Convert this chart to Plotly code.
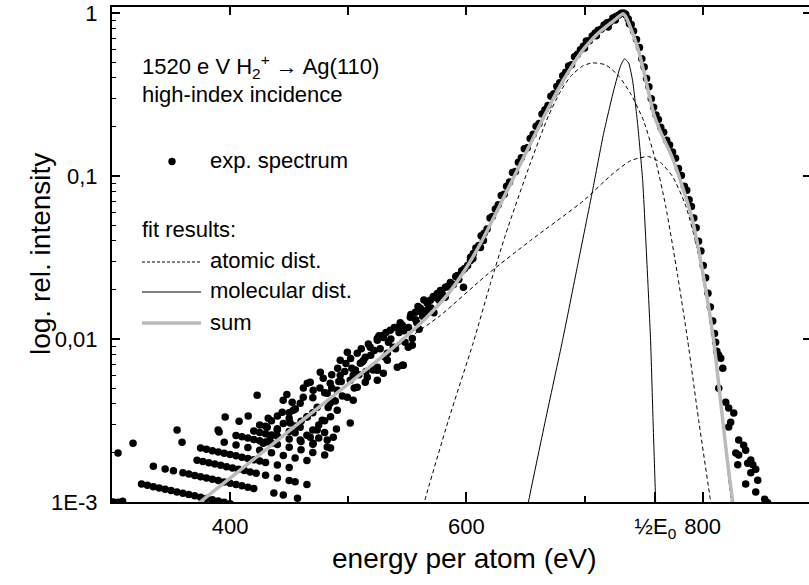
import plotly.graph_objects as go

# ---------------- fit curves ----------------
sum_energy = [370, 374.6, 400, 430, 460, 490, 520, 537.3, 555, 570, 585, 597.5, 606, 614.4, 625, 635, 645, 655, 665,
              675, 682.2, 690, 696.6, 704, 711, 718, 724.6, 729, 732.5, 735.5, 739, 742.5, 745.8, 749.5, 753.4, 758.5,
              765, 772.9, 778, 783.1, 787.5, 791.5, 796, 800.8, 805, 809.3, 813, 817, 821, 825.4, 829]
sum_intensity = [0.00094, 0.001, 0.001403, 0.002089, 0.003119, 0.004645, 0.006934, 0.00877, 0.01135, 0.01445, 0.01914,
                 0.0257, 0.03236, 0.04169, 0.05916, 0.08279, 0.1161, 0.1622, 0.2265, 0.3126, 0.389, 0.4808, 0.5689,
                 0.6607, 0.7447, 0.8222, 0.8954, 0.9506, 0.9886, 0.9333, 0.811, 0.6918, 0.5861, 0.4571, 0.3475, 0.241,
                 0.182, 0.1371, 0.1096, 0.0849, 0.0676, 0.0533, 0.0372, 0.02388, 0.01585, 0.00982, 0.00575, 0.00316,
                 0.00178, 0.001, 0.00063]

mol_energy = [651.5, 652.5, 666.9, 681.4, 694.1, 706.8, 716.1, 724.6, 730.5, 733.9, 737.3, 740.7, 744.9, 749.2, 753.4,
              755.9, 758, 760.2, 760.6]
mol_intensity = [0.0009, 0.001, 0.003177, 0.00982, 0.02825, 0.08147, 0.182, 0.3334, 0.4742, 0.5236, 0.4943, 0.3837,
                 0.2094, 0.0938, 0.02388, 0.00982, 0.00316, 0.001, 0.0008]

atomic1_energy = [562, 564.4, 584.7, 605.9, 620.3, 633.1, 654.2, 669.5, 679.7, 688.1, 698.3, 706.8, 717.8, 728.8, 739,
                  750, 760.2, 768.6, 778.8, 787.3, 796.6, 806.8, 808.5]
atomic1_intensity = [0.00085, 0.001, 0.003162, 0.00955, 0.02188, 0.04365, 0.1202, 0.2344, 0.3311, 0.4074, 0.4732,
                     0.4943, 0.4808, 0.4121, 0.3199, 0.2183, 0.1242, 0.0659, 0.02455, 0.00982, 0.003177, 0.001, 0.00083]

atomic2_energy = [370, 374.6, 400, 430, 460, 490, 520, 544, 578, 618.6, 654.2, 699.2, 722, 739, 754.2, 764.4, 774.6,
                  785.6, 795.8, 803.4, 809.3, 817, 824.6, 827]
atomic2_intensity = [0.00094, 0.001, 0.00138, 0.002065, 0.00309, 0.004603, 0.006855, 0.0093, 0.01396, 0.02523, 0.04018,
                     0.07063, 0.1005, 0.1242, 0.1315, 0.1208, 0.0991, 0.0659, 0.0349, 0.01726, 0.00914, 0.00302,
                     0.000955, 0.00075]

# ---------------- experimental spectrum (energy, intensity) ----------------
exp_low_rows = [
    (301, 0.00100), (305, 0.000995), (309, 0.00101),
    (325, 0.001289), (330, 0.001265), (335, 0.001242), (340, 0.001219), (345, 0.001197), (350, 0.001175),
    (355, 0.001153), (360, 0.001133), (365, 0.001112), (370, 0.001092), (375, 0.001071), (380, 0.001052),
    (385, 0.001033), (390, 0.001015), (395, 0.000996), (400, 0.000977),
    (335, 0.001656), (345, 0.001596), (352, 0.001555), (360, 0.00151), (365, 0.001483), (370, 0.001456),
    (375, 0.001428), (380, 0.001402), (385, 0.001378), (390, 0.001353), (395, 0.001328), (400, 0.001303),
    (405, 0.001279), (410, 0.001256), (415, 0.001233), (420, 0.001211), (437, 0.001137), (445, 0.001104),
    (457, 0.001056),
    (372, 0.001805), (377, 0.001773), (382, 0.00174), (387, 0.00171), (392, 0.001679), (397, 0.001648),
    (402, 0.001617), (407, 0.001588), (412, 0.001559), (417, 0.00153), (422, 0.001503), (430, 0.001459),
    (440, 0.001406), (450, 0.001355), (455, 0.00133), (465, 0.001282),
    (375, 0.002143), (380, 0.002104), (385, 0.002066), (390, 0.002029), (395, 0.001992), (400, 0.001955),
    (405, 0.001919), (410, 0.001884), (415, 0.00185), (420, 0.001816), (425, 0.001783), (430, 0.00175),
    (440, 0.001687), (450, 0.001626),
    (395, 0.002324), (405, 0.002239), (415, 0.002158), (425, 0.00208), (435, 0.002005), (445, 0.001932),
    (455, 0.001862), (465, 0.001795),
    (405, 0.002558), (410, 0.002512), (415, 0.002466), (420, 0.002422), (425, 0.002377), (430, 0.002334),
    (435, 0.002291), (440, 0.00225), (450, 0.002168), (460, 0.00209), (470, 0.002014), (480, 0.001941),
    (420, 0.002724), (425, 0.002674), (430, 0.002625), (435, 0.002578), (440, 0.002531), (450, 0.002439),
    (460, 0.002351), (470, 0.002265), (485, 0.002144),
    (425, 0.002971), (430, 0.002917), (440, 0.002812), (450, 0.00271), (455, 0.00266), (465, 0.002564),
    (475, 0.002471),
    (435, 0.00315), (445, 0.003036), (455, 0.002926), (470, 0.002769), (480, 0.002669),
    (440, 0.003374), (450, 0.003252), (460, 0.003134), (475, 0.002965), (490, 0.002807),
    (450, 0.003523), (465, 0.003333), (480, 0.003154),
    (455, 0.003724), (470, 0.003524), (485, 0.003335),
]

exp_cloud = [
    (422.9, 0.004519), (444.9, 0.004217), (452.5, 0.004093), (459.3, 0.004036), (444.1, 0.003556), (432.2, 0.003266),
    (431.4, 0.002877), (467.8, 0.005433), (476.3, 0.006252), (478.8, 0.005741), (484.7, 0.005358), (493.2, 0.005998),
    (499.2, 0.008299), (507.6, 0.008166), (514.4, 0.007727), (524.6, 0.009817), (529.7, 0.01023), (541.5, 0.0118),
    (501.7, 0.003048), (478.0, 0.003177), (484.7, 0.004036), (490.7, 0.003656), (499.2, 0.004395), (507.6, 0.005058),
    (516.1, 0.005834), (524.6, 0.006714), (529.7, 0.006166), (541.5, 0.006714), (546.6, 0.006902), (533.1, 0.008166),
    (538.1, 0.008892), (518.6, 0.008892), (510.2, 0.007096), (470.3, 0.004853), (461.9, 0.004395), (453.4, 0.003656),
    (465.3, 0.003319), (473.7, 0.002761), (482.2, 0.002399), (487.3, 0.0025), (467.8, 0.0025), (459.3, 0.002877),
    (450.8, 0.003048), (439.8, 0.002761), (433.9, 0.0025), (428.0, 0.002296), (473.7, 0.003819), (482.2, 0.004645),
    (490.7, 0.004853), (501.7, 0.005585), (493.2, 0.007413), (395.8, 0.003319), (389.8, 0.002761), (355.1, 0.002761),
    (359.3, 0.002328), (317.8, 0.002296), (305.1, 0.001995), (415.3, 0.003365), (407.6, 0.003133), (390.7, 0.002685),
    (524.6, 0.01009), (529.7, 0.01054), (535.6, 0.0113), (545.8, 0.01213), (552.5, 0.01358), (556.8, 0.01459),
    (561.0, 0.01542), (566.9, 0.01656), (569.5, 0.01726), (575.4, 0.01905), (578.0, 0.01986), (582.2, 0.02075),
    (586.4, 0.02223), (592.4, 0.02455), (596.6, 0.02636), (597.5, 0.02075), (603.4, 0.03034), (605.9, 0.0335),
    (611.9, 0.03648), (614.4, 0.04018), (554.2, 0.01009), (550.8, 0.008892),
    (465.3, 0.005358), (487.3, 0.004217), (504.2, 0.005998), (524.6, 0.006427), (533.1, 0.007413), (545.8, 0.006902),
    (554.2, 0.009141), (524.6, 0.005585), (514.4, 0.005433), (504.2, 0.004217), (482.2, 0.002173), (470.3, 0.002296),
    (459.3, 0.002399),
    (480, 0.004677), (483, 0.003802), (486, 0.005012), (489, 0.004169), (492, 0.005495), (495, 0.004467),
    (497, 0.00631), (503, 0.006607), (505, 0.005012), (509, 0.006026), (512, 0.007244), (515, 0.00631),
    (519, 0.007943), (521, 0.006457), (527, 0.00871), (531, 0.007762), (536, 0.01), (540, 0.00871),
    (543, 0.01096), (548, 0.00955), (551, 0.01175), (558, 0.01259), (563, 0.0138),
    (486, 0.006026), (491, 0.006607), (494, 0.005495), (498, 0.007079), (502, 0.007586), (506, 0.006457),
    (511, 0.00871), (513, 0.007413), (517, 0.009333), (522, 0.008511), (526, 0.01047), (532, 0.01096),
    (534, 0.00955), (539, 0.01175), (544, 0.01259), (547, 0.01122), (553, 0.01413), (559, 0.01585),
    (564, 0.01738), (572, 0.0182), (476, 0.005012), (470, 0.004365), (462, 0.005012), (455, 0.003715),
    (448, 0.004571),
]

exp_band = [
    (557, 0.01315), (560, 0.01148), (562, 0.01459), (565, 0.01396), (567, 0.0151), (570, 0.01552), (572.5, 0.01449),
    (575, 0.01782), (577, 0.01726), (579.5, 0.01892), (582, 0.01803), (584, 0.02099), (586.5, 0.02104),
    (589, 0.02163), (591, 0.02415), (593.5, 0.02317), (596, 0.02612), (598.5, 0.02704), (601, 0.02825),
    (603.5, 0.0317), (605.5, 0.03119), (608, 0.03622), (610.5, 0.0375), (612.5, 0.04295), (615, 0.04457),
    (617.5, 0.04732), (620, 0.05521), (622, 0.05636), (624.5, 0.06281), (627, 0.06668), (629.5, 0.07603),
    (632, 0.07727), (634, 0.0865), (636.5, 0.09204), (639, 0.105), (641.5, 0.1067), (644, 0.1216), (646.5, 0.1294),
    (649, 0.1472), (651.5, 0.1493), (654, 0.1698), (656.5, 0.1807), (659, 0.2018), (661.5, 0.2099), (664, 0.2399),
    (666.5, 0.2553), (669, 0.271), (671.5, 0.3083), (674, 0.3199), (676.5, 0.3548), (679, 0.3741), (681.5, 0.413),
    (684, 0.4325), (686.5, 0.4732), (689, 0.4819), (691.5, 0.5383), (694, 0.5585), (696.5, 0.5943), (699, 0.6252),
    (701.5, 0.673), (704, 0.6761), (706.5, 0.7228), (709, 0.7534), (711.5, 0.7852), (714, 0.7943), (716.5, 0.8433),
    (719, 0.873), (721.5, 0.881), (724, 0.9311), (726.5, 0.9506), (729, 0.9727), (731, 0.9954), (733, 1.002),
    (735, 0.975), (737, 0.9204), (739.5, 0.8492), (741.5, 0.7762), (744, 0.6871), (746.5, 0.6138), (748.5, 0.5236),
    (750.5, 0.4667), (752.5, 0.3963), (754.5, 0.3524), (756.5, 0.2979), (758.5, 0.2642), (760.5, 0.2366),
    (762.5, 0.2223), (764.5, 0.1991), (767, 0.1858), (769.5, 0.166), (772, 0.1552), (774.5, 0.1403), (777, 0.1285),
    (779.5, 0.1114), (782, 0.1007), (784.5, 0.0865), (786.5, 0.0818), (788.5, 0.0715), (790.5, 0.065),
    (792.5, 0.0552), (794.5, 0.0481), (796.5, 0.0398), (798.5, 0.0347), (800.5, 0.0282), (802.5, 0.0238),
    (804.5, 0.0191), (806.5, 0.01574), (808.5, 0.01291),
    (720, 0.82), (726, 0.905), (734.5, 0.985), (738, 0.86), (710, 0.725), (700, 0.61),
]

exp_tail = [
    (810, 0.0108), (812, 0.0084), (811, 0.00955), (813.6, 0.00794), (815.3, 0.00762), (817, 0.00662),
    (813.6, 0.00499), (819.5, 0.00409), (822, 0.00377), (826.3, 0.00351), (823.7, 0.00309), (822, 0.00288),
    (830.5, 0.0024), (834.7, 0.00223), (836.4, 0.00208), (828, 0.002), (830.5, 0.00194), (840.7, 0.00181),
    (838.1, 0.00173), (842.4, 0.00169), (829.7, 0.00169), (844.9, 0.00159), (840.7, 0.00151), (846.6, 0.00136),
    (836.4, 0.00129), (844.9, 0.00115), (852.5, 0.00104), (855, 0.00099),
]

# ---------------- axis ticks ----------------
x_tick_vals = [400, 600, 760, 800]
x_tick_text = ["400", "600", "½E<sub>0</sub>", "800"]
x_minor_vals = [500, 700]
x_top_vals = [400, 500, 600, 700, 800]
y_tick_vals = [0.001, 0.01, 0.1, 1]
y_tick_text = ["1E-3", "0,01", "0,1", "1"]
y_minor_vals = [m * d for d in (0.001, 0.01, 0.1) for m in range(2, 10)]

FONT = "Arial, Liberation Sans, sans-serif"

exp_all = exp_low_rows + exp_cloud + exp_band + exp_tail
exp_energy = [p[0] for p in exp_all]
exp_intensity = [p[1] for p in exp_all]

fig = go.Figure()
fig.add_trace(go.Scatter(x=exp_energy, y=exp_intensity, mode="markers",
                         marker=dict(size=7.5, color="black", line=dict(width=0)),
                         name="exp. spectrum"))
fig.add_trace(go.Scatter(x=atomic2_energy, y=atomic2_intensity, mode="lines",
                         line=dict(color="black", width=1, dash="4px,3px", shape="spline", smoothing=0.6),
                         name="atomic dist."))
fig.add_trace(go.Scatter(x=atomic1_energy, y=atomic1_intensity, mode="lines",
                         line=dict(color="black", width=1, dash="4px,3px", shape="spline", smoothing=0.6),
                         name="atomic dist."))
fig.add_trace(go.Scatter(x=mol_energy, y=mol_intensity, mode="lines",
                         line=dict(color="black", width=1, shape="spline", smoothing=0.5),
                         name="molecular dist."))
fig.add_trace(go.Scatter(x=sum_energy, y=sum_intensity, mode="lines",
                         line=dict(color="#bababa", width=3.5, shape="spline", smoothing=0.5),
                         name="sum"))
# invisible helper traces for the top / right tick axes
fig.add_trace(go.Scatter(x=[None], y=[None], xaxis="x2", yaxis="y", showlegend=False, hoverinfo="skip"))
fig.add_trace(go.Scatter(x=[None], y=[None], xaxis="x", yaxis="y2", showlegend=False, hoverinfo="skip"))


def px(x):
    return (x - 112) / 697.0


def py(y):
    return (502 - y) / 495.0


shapes = [
    dict(type="circle", xref="paper", yref="paper", x0=px(168.3), x1=px(175.7), y0=py(157.8), y1=py(165.2),
         fillcolor="black", line=dict(width=0)),
    dict(type="line", xref="paper", yref="paper", x0=px(142), x1=px(201), y0=py(262), y1=py(262),
         line=dict(color="black", width=1, dash="3px,2px")),
    dict(type="line", xref="paper", yref="paper", x0=px(142), x1=px(201), y0=py(292), y1=py(292),
         line=dict(color="black", width=1)),
    dict(type="line", xref="paper", yref="paper", x0=px(142), x1=px(201), y0=py(323), y1=py(323),
         line=dict(color="#bababa", width=3.5)),
]


def ann(x, y, text, size=22, anchor="left", angle=0):
    return dict(xref="paper", yref="paper", x=px(x), y=py(y), text=text, showarrow=False,
                xanchor=anchor, yanchor="middle", textangle=angle,
                font=dict(family=FONT, size=size, color="black"))


annotations = [
    ann(140, 66, "1520 e V H<sub>2</sub><sup>+</sup> → Ag(110)"),
    ann(140, 94, "high-index incidence"),
    ann(208, 160, "exp. spectrum"),
    ann(140, 229, "fit results:"),
    ann(208, 260, "atomic dist."),
    ann(208, 290, "molecular dist."),
    ann(208, 322, "sum"),
    ann(464, 558, "energy per atom (eV)", size=28, anchor="center"),
    ann(40, 254, "log. rel. intensity", size=28, anchor="center", angle=-90),
]

fig.update_layout(
    width=809, height=585,
    margin=dict(l=112, r=0, t=7, b=83),
    plot_bgcolor="white", paper_bgcolor="white",
    showlegend=False,
    font=dict(family=FONT, size=22, color="black"),
    shapes=shapes,
    annotations=annotations,
    xaxis=dict(range=[300, 890], showgrid=False, zeroline=False,
               showline=True, linecolor="black", linewidth=2, mirror=True,
               ticks="inside", ticklen=10, tickwidth=1.5, tickcolor="black",
               tickmode="array", tickvals=x_tick_vals, ticktext=x_tick_text,
               tickfont=dict(family=FONT, size=22, color="black"), ticklabelstandoff=4,
               minor=dict(tickmode="array", tickvals=x_minor_vals, ticks="inside", ticklen=6,
                          tickwidth=1.5, tickcolor="black", showgrid=False)),
    xaxis2=dict(range=[300, 890], overlaying="x", side="top", showgrid=False, zeroline=False,
                showline=False, ticks="inside", ticklen=8, tickwidth=1.5, tickcolor="black",
                tickmode="array", tickvals=x_top_vals, showticklabels=False),
    yaxis=dict(type="log", range=[-3, 0.037], showgrid=False, zeroline=False,
               showline=True, linecolor="black", linewidth=2, mirror=False,
               ticks="inside", ticklen=8, tickwidth=1.5, tickcolor="black",
               tickmode="array", tickvals=y_tick_vals, ticktext=y_tick_text,
               tickfont=dict(family=FONT, size=22, color="black"), ticklabelstandoff=8,
               minor=dict(tickmode="array", tickvals=y_minor_vals, ticks="inside", ticklen=4,
                          tickwidth=1.2, tickcolor="black", showgrid=False)),
    yaxis2=dict(type="log", range=[-3, 0.037], overlaying="y", side="right", showgrid=False, zeroline=False,
                showline=False, ticks="inside", ticklen=6, tickwidth=1.5, tickcolor="black",
                tickmode="array", tickvals=y_tick_vals, showticklabels=False),
)

fig.write_html("out.html")
